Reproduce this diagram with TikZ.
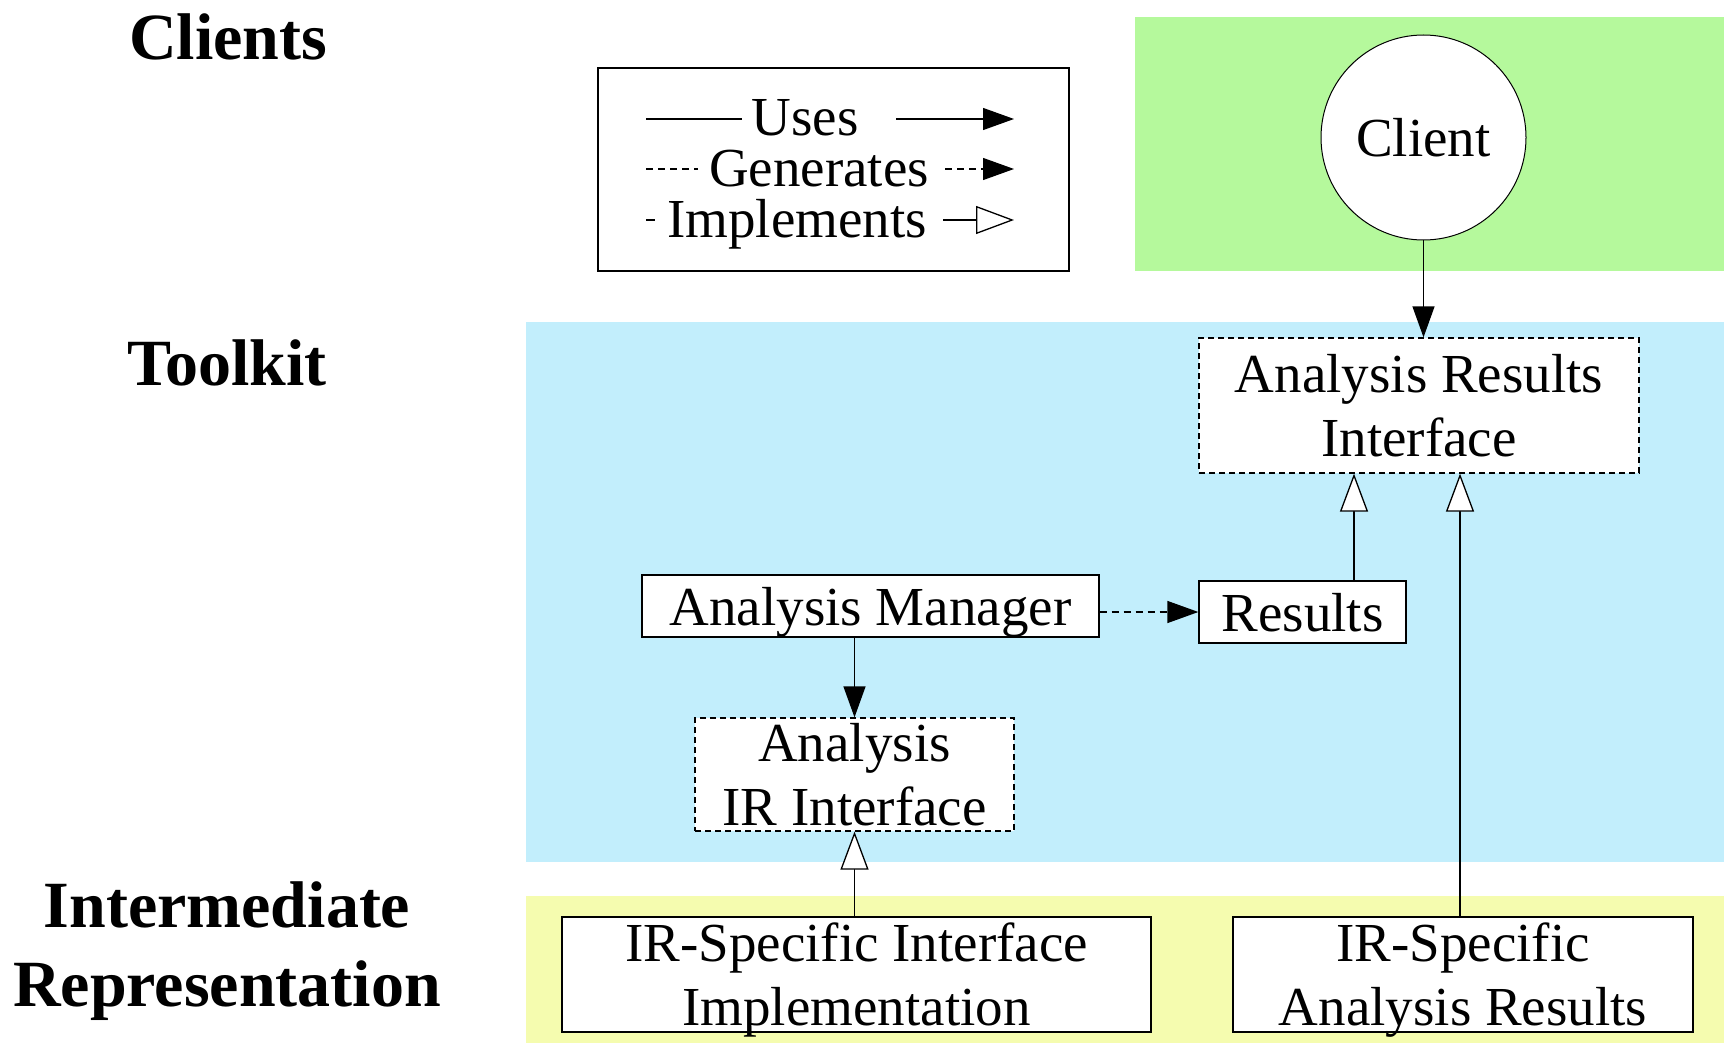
\documentclass[tikz,border=0pt]{standalone}
\usepackage{fontspec}
\setmainfont{Liberation Serif}
\usetikzlibrary{arrows.meta,calc}
\definecolor{cgreen}{HTML}{B5F99C}
\definecolor{cblue}{HTML}{C2EEFC}
\definecolor{cyellow}{HTML}{F5FCAF}
\newcommand{\tl}[1]{\rule[-5pt]{0pt}{48pt}\smash{#1}}
\newcommand{\tts}{\rule[-19pt]{0pt}{79pt}}
\begin{document}
\begin{tikzpicture}[x=1pt,y=-1pt,
  lbl/.style={font=\fontsize{55}{64}\selectfont, inner sep=0pt, align=center},
  ttl/.style={font=\fontsize{66}{79}\selectfont\bfseries, inner sep=0pt, align=center},
  bx/.style={lbl, draw, fill=white, line width=1.3pt},
  dbx/.style={bx, dash pattern=on 6pt off 4pt},
  uses/.style={line width=1.3pt, -{Triangle[length=31pt,width=22pt]}},
  gen/.style={uses, dash pattern=on 7pt off 5pt},
  impl/.style={line width=1.3pt, -{Triangle[length=38pt,width=28pt,fill=white]}},
  plainline/.style={line width=1.3pt},
  dashline/.style={line width=1.3pt, dash pattern=on 7pt off 5pt}
]
\useasboundingbox (0,0) rectangle (1724,1043);
% bands
\fill[cgreen] (1135,17) rectangle (1724,271);
\fill[cblue] (526,322) rectangle (1724,862);
\fill[cyellow] (526,896) rectangle (1724,1043);

% titles
\node[ttl, anchor=base] (tcl) at (228,60) {Clients};
\node[ttl, anchor=base] (ttk) at (227,385) {Toolkit};
\node[ttl] (tir) at (227,946) {\tts Intermediate\\\tts Representation};

% legend
\node[draw, line width=1.3pt, fill=white, minimum width=471pt, minimum height=203pt, inner sep=0pt] (legend) at (833.5,169.5) {};
\node[lbl, anchor=base] (luses) at (805,136) {Uses};
\node[lbl, anchor=base] (lgen) at (819,187) {Generates};
\node[lbl, anchor=base] (limpl) at (797,237) {Implements};
\coordinate (u0) at (646,119); \coordinate (u1) at (742,119);
\coordinate (u2) at (896,119); \coordinate (u3) at (1014,119);
\coordinate (g0) at (646,169); \coordinate (g1) at (698,169);
\coordinate (g2) at (945,169); \coordinate (g3) at (1014,169);
\coordinate (i0) at (646,220); \coordinate (i1) at (655,220);
\coordinate (i2) at (943,220); \coordinate (i3) at (1014,220);
\draw[plainline] (u0) -- (u1);
\draw[uses] (u2) -- (u3);
\draw[dashline] (g0) -- (g1);
\draw[gen] (g2) -- (g3);
\draw[plainline] (i0) -- (i1);
\draw[impl] (i2) -- (i3);

% nodes
\node[lbl, draw, circle, fill=white, line width=1pt, minimum size=205pt] (client) at (1423.5,137.5) {\tl{Client}};
\node[dbx, minimum width=440pt, minimum height=135pt] (ari) at (1419,405.5) {\tl{Analysis Results}\\\tl{Interface}};
\node[bx, minimum width=457pt, minimum height=62pt] (am) at (870.5,606) {\tl{Analysis Manager}};
\node[bx, minimum width=207pt, minimum height=62pt] (res) at (1302.5,612) {\tl{Results}};
\node[dbx, minimum width=319pt, minimum height=113pt] (air) at (854.5,774.5) {\tl{Analysis}\\\tl{IR Interface}};
\node[bx, minimum width=589pt, minimum height=115pt] (irsii) at (856.5,974.5) {\tl{IR-Specific Interface}\\\tl{Implementation}};
\node[bx, minimum width=460pt, minimum height=115pt] (irsar) at (1463,974.5) {\tl{IR-Specific}\\\tl{Analysis Results}};

% edges
\draw[uses] (client.south) -- (client.south |- ari.north);
\draw[uses] (am.south -| air.north) -- (air.north);
\draw[gen] (am.east |- res.west) -- (res.west);
\draw[impl] ([xshift=51.5pt]res.north) -- ([xshift=51.5pt]res.north |- ari.south);
\draw[impl] ([xshift=-3pt]irsar.north) -- ([xshift=-3pt]irsar.north |- ari.south);
\draw[impl] (irsii.north -| air.south) -- (air.south);
\end{tikzpicture}
\end{document}
